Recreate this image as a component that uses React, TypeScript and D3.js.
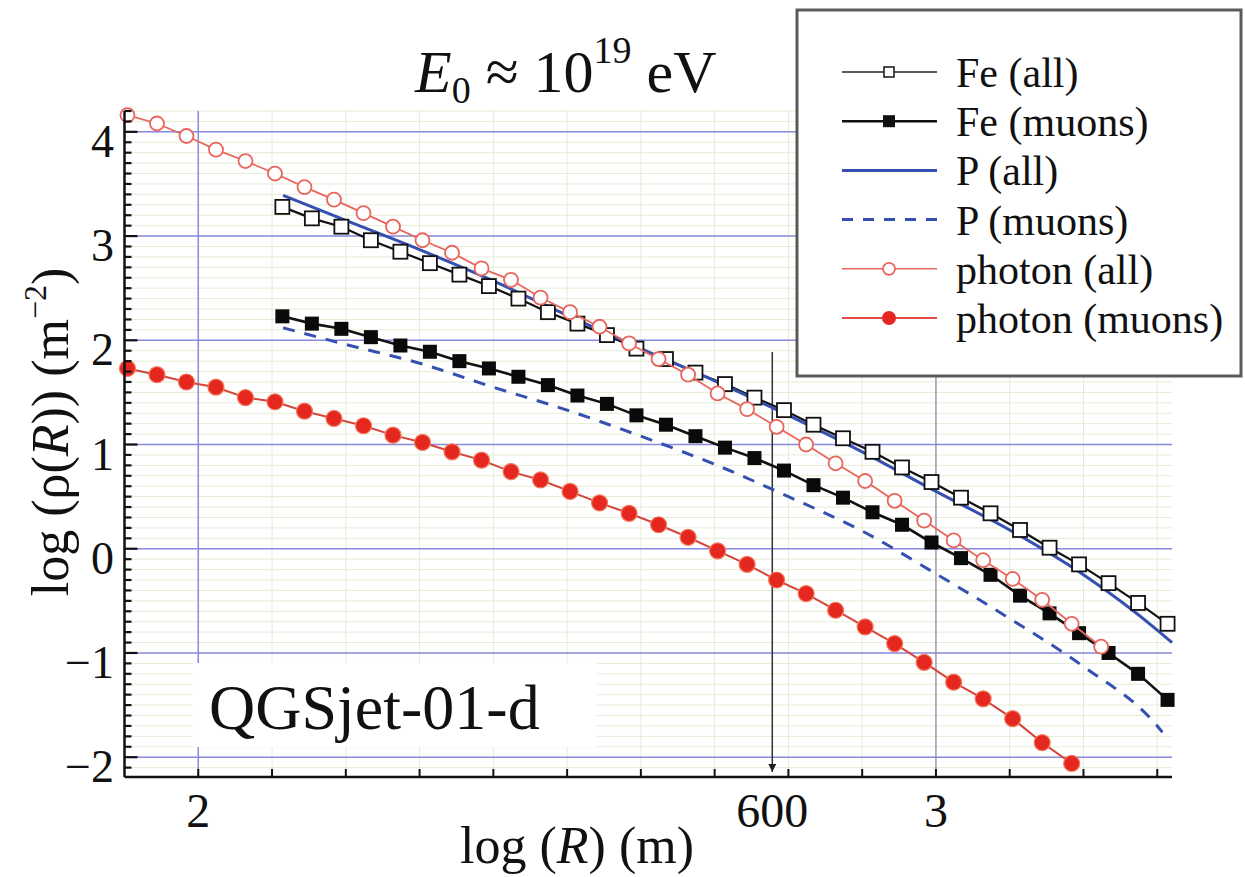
import React from "react";
import * as d3 from "d3";

// ---- data (log10 R in m, log10 rho in m^-2) ----
const photonLogR = [1.904, 1.944, 1.984, 2.024, 2.064, 2.104, 2.144, 2.184, 2.224, 2.264, 2.304, 2.344, 2.384, 2.424, 2.464, 2.504, 2.544, 2.584, 2.624, 2.664, 2.704, 2.744, 2.784, 2.824, 2.864, 2.904, 2.944, 2.984, 3.024, 3.064, 3.104, 3.144, 3.184, 3.224];
const photonAll = [4.16, 4.08, 3.96, 3.83, 3.72, 3.6, 3.47, 3.35, 3.22, 3.09, 2.96, 2.84, 2.69, 2.58, 2.41, 2.27, 2.13, 1.97, 1.82, 1.67, 1.49, 1.34, 1.17, 1.0, 0.82, 0.65, 0.46, 0.27, 0.08, -0.11, -0.29, -0.49, -0.72, -0.94];
const photonMuons = [1.73, 1.67, 1.6, 1.55, 1.45, 1.41, 1.32, 1.25, 1.18, 1.09, 1.02, 0.93, 0.85, 0.74, 0.66, 0.55, 0.44, 0.34, 0.23, 0.11, -0.02, -0.15, -0.3, -0.43, -0.59, -0.75, -0.91, -1.09, -1.28, -1.44, -1.63, -1.86, -2.06];
const feLogR = [2.114, 2.154, 2.194, 2.234, 2.274, 2.314, 2.354, 2.394, 2.434, 2.474, 2.514, 2.554, 2.594, 2.634, 2.674, 2.714, 2.754, 2.794, 2.834, 2.874, 2.914, 2.954, 2.994, 3.034, 3.074, 3.114, 3.154, 3.194, 3.234, 3.274, 3.314];
const feAll = [3.28, 3.17, 3.09, 2.96, 2.85, 2.74, 2.63, 2.52, 2.4, 2.27, 2.16, 2.05, 1.92, 1.82, 1.69, 1.58, 1.45, 1.33, 1.19, 1.06, 0.93, 0.78, 0.64, 0.49, 0.34, 0.18, 0.01, -0.15, -0.33, -0.52, -0.72];
const feMuons = [2.23, 2.16, 2.11, 2.03, 1.95, 1.89, 1.8, 1.73, 1.65, 1.57, 1.47, 1.39, 1.28, 1.19, 1.08, 0.97, 0.87, 0.75, 0.61, 0.49, 0.35, 0.23, 0.06, -0.09, -0.25, -0.45, -0.62, -0.81, -1.0, -1.2, -1.45];
const pAllLogR = [2.115, 2.2, 2.3, 2.4, 2.5, 2.6, 2.7, 2.8, 2.9, 3.0, 3.1, 3.2, 3.3, 3.32];
const pAll = [3.39, 3.15, 2.87, 2.57, 2.24, 1.92, 1.61, 1.28, 0.93, 0.55, 0.18, -0.25, -0.78, -0.9];
const pMuonsLogR = [2.115, 2.2, 2.3, 2.4, 2.5, 2.6, 2.7, 2.8, 2.9, 3.0, 3.1, 3.2, 3.3, 3.307];
const pMuons = [2.12, 1.96, 1.78, 1.55, 1.33, 1.08, 0.81, 0.5, 0.17, -0.24, -0.67, -1.13, -1.7, -1.76];

const yTickValues = [-2, -1, 0, 1, 2, 3, 4];
const xTickLabels = [
  { value: 2, label: "2" },
  { value: Math.log10(600), label: "600" },
  { value: 3, label: "3" },
];
const legendLabels = ["Fe (all)", "Fe (muons)", "P (all)", "P (muons)", "photon (all)", "photon (muons)"];

const W = 1245;
const H = 877;
const FONT = "'Liberation Serif', 'Times New Roman', serif";

const BLUE = "#3550b0";
const RED = "#e5281f";
const RED_LIGHT = "#e8665c";
const GRID_BLUE = "#8a8ae0";
const MINOR = "#e5ecd6";

export default function App() {
  const x = d3.scaleLinear().domain([1.9, 3.32]).range([124.5, 1172]);
  const y = d3.scaleLinear().domain([-2.19, 4.2]).range([777, 111]);

  const line = (xs: number[], ys: number[], curve = d3.curveLinear) =>
    d3
      .line<number>()
      .x((_, i) => x(xs[i]))
      .y((v) => y(v))
      .curve(curve)(ys) || "";

  const minorX = d3.range(20, 34).map((v) => v / 10);
  const minorY = d3.range(-21, 43).map((v) => v / 10);

  const x0 = x(1.9);
  const x1 = x(3.32);
  const yTop = y(4.2);
  const yBot = y(-2.19);

  const sq = 14;

  // legend geometry
  const lgX = 797;
  const lgY = 10;
  const rowY = (i: number) => 72 + i * 49.2;
  const lgLineX0 = 842;
  const lgLineX1 = 937;
  const lgMark = 889;

  return (
    <svg
      width={W}
      height={H}
      style={{ position: "absolute", left: 0, top: 0, background: "#fff" }}
      fontFamily={FONT}
    >
      <defs>
        <marker id="arrow" viewBox="0 0 10 10" refX="10" refY="5" markerWidth="10" markerHeight="8" orient="auto" markerUnits="userSpaceOnUse">
          <path d="M0,0 L10,5 L0,10 z" fill="#222" />
        </marker>
      </defs>
      <rect x={0} y={0} width={W} height={H} fill="#fff" />

      {/* minor grid */}
      {minorX.map((v) => (
        <line key={"mx" + v} x1={x(v)} x2={x(v)} y1={yTop} y2={yBot} stroke={MINOR} strokeWidth={1} />
      ))}
      {minorY.map((v) => (
        <line key={"my" + v} x1={x0} x2={x1} y1={y(v)} y2={y(v)} stroke={MINOR} strokeWidth={1} />
      ))}

      {/* major grid */}
      {yTickValues.map((v) => (
        <line key={"gy" + v} x1={x0} x2={x1} y1={y(v)} y2={y(v)} stroke={GRID_BLUE} strokeWidth={1.5} />
      ))}
      <line x1={x(2)} x2={x(2)} y1={yTop} y2={yBot} stroke={GRID_BLUE} strokeWidth={1.5} />
      <line x1={x(3)} x2={x(3)} y1={yTop} y2={yBot} stroke="#8a8a9a" strokeWidth={1.2} />

      {/* QGSjet label box */}
      <rect x={193} y={663} width={404} height={84} fill="#fff" />
      <text x={209} y={729} fontSize={64} fill="#111">QGSjet-01-d</text>

      {/* 600 m marker line */}
      <line x1={x(Math.log10(600))} x2={x(Math.log10(600))} y1={352} y2={772} stroke="#333" strokeWidth={1.5} markerEnd="url(#arrow)" />

      {/* Fe (all) */}
      <path d={line(feLogR, feAll)} fill="none" stroke="#111" strokeWidth={2.2} />
      {/* Fe (muons) */}
      <path d={line(feLogR, feMuons)} fill="none" stroke="#111" strokeWidth={2.6} />
      {/* P (all) */}
      <path d={line(pAllLogR, pAll, d3.curveMonotoneX)} fill="none" stroke={BLUE} strokeWidth={3} />
      {/* P (muons) */}
      <path d={line(pMuonsLogR, pMuons, d3.curveMonotoneX)} fill="none" stroke={BLUE} strokeWidth={3} strokeDasharray="12 10" />

      {feLogR.map((v, i) => (
        <rect key={"fa" + i} x={x(v) - sq / 2} y={y(feAll[i]) - sq / 2} width={sq} height={sq} fill="#fff" stroke="#111" strokeWidth={1.8} />
      ))}
      {feLogR.map((v, i) => (
        <rect key={"fm" + i} x={x(v) - sq / 2} y={y(feMuons[i]) - sq / 2} width={sq} height={sq} fill="#0a0a0a" />
      ))}

      {/* photon (all) */}
      <path d={line(photonLogR, photonAll)} fill="none" stroke={RED_LIGHT} strokeWidth={1.8} />
      {photonLogR.map((v, i) => (
        <circle key={"pa" + i} cx={x(v)} cy={y(photonAll[i])} r={7} fill="#fff" stroke={RED_LIGHT} strokeWidth={1.8} />
      ))}
      {/* photon (muons) */}
      <path d={line(photonLogR.slice(0, photonMuons.length), photonMuons)} fill="none" stroke="#d6453a" strokeWidth={2} />
      {photonMuons.map((v, i) => (
        <circle key={"pm" + i} cx={x(photonLogR[i])} cy={y(v)} r={8} fill={RED} stroke="#f27a5e" strokeWidth={1.2} />
      ))}

      {/* axes */}
      <line x1={x0} x2={x0} y1={yTop} y2={yBot} stroke="#111" strokeWidth={2.5} />
      <line x1={x0} x2={x1} y1={yBot} y2={yBot} stroke="#111" strokeWidth={2.5} />
      {minorY.map((v) => {
        const major = Math.abs(v - Math.round(v)) < 1e-6;
        return <line key={"ty" + v} x1={x0} x2={x0 + (major ? 13 : 7)} y1={y(v)} y2={y(v)} stroke="#111" strokeWidth={2.2} />;
      })}
      {minorX.map((v) => (
        <line key={"tx" + v} x1={x(v)} x2={x(v)} y1={yBot} y2={yBot - 8} stroke="#111" strokeWidth={2} />
      ))}

      {/* tick labels */}
      {yTickValues.map((v) => (
        <text key={"ly" + v} x={114} y={y(v) + 25} fontSize={46} textAnchor="end" fill="#111">
          {v < 0 ? "\u2212" + Math.abs(v) : String(v)}
        </text>
      ))}
      {xTickLabels.map((t) => (
        <text key={"lx" + t.label} x={x(t.value)} y={827} fontSize={48} textAnchor="middle" fill="#111">
          {t.label}
        </text>
      ))}

      {/* axis titles */}
      <text x={577} y={863} fontSize={52} textAnchor="middle" fill="#111">
        log (<tspan fontStyle="italic">R</tspan>) (m)
      </text>
      <text transform="translate(68,432) rotate(-90)" fontSize={52} textAnchor="middle" fill="#111">
        log (ρ(<tspan fontStyle="italic">R</tspan>)) (m<tspan fontSize={32} dy={-22}>−2</tspan><tspan dy={22}>)</tspan>
      </text>

      {/* title */}
      <text x={415} y={92} fontSize={60} fill="#111">
        <tspan fontStyle="italic">E</tspan>
        <tspan fontSize={38} dy={11}>0</tspan>
        <tspan dy={-11}> ≈ 10</tspan>
        <tspan fontSize={38} dy={-29}>19</tspan>
        <tspan dy={29}> eV</tspan>
      </text>

      {/* legend */}
      <rect x={lgX} y={lgY} width={444} height={366} fill="#fff" stroke="#5a5a5a" strokeWidth={3} />
      {legendLabels.map((lab, i) => (
        <text key={"lg" + i} x={956} y={rowY(i) + 15} fontSize={42} fill="#111">
          {lab}
        </text>
      ))}
      {/* Fe (all) */}
      <line x1={lgLineX0} x2={lgLineX1} y1={rowY(0)} y2={rowY(0)} stroke="#222" strokeWidth={1.6} />
      <rect x={lgMark - 5} y={rowY(0) - 5} width={10} height={10} fill="#fff" stroke="#222" strokeWidth={1.6} />
      {/* Fe (muons) */}
      <line x1={lgLineX0} x2={lgLineX1} y1={rowY(1)} y2={rowY(1)} stroke="#111" strokeWidth={2.6} />
      <rect x={lgMark - 6} y={rowY(1) - 6} width={12} height={12} fill="#111" />
      {/* P (all) */}
      <line x1={lgLineX0} x2={lgLineX1} y1={rowY(2)} y2={rowY(2)} stroke={BLUE} strokeWidth={3} />
      {/* P (muons) */}
      <line x1={lgLineX0} x2={lgLineX1} y1={rowY(3)} y2={rowY(3)} stroke={BLUE} strokeWidth={3} strokeDasharray="11 10" />
      {/* photon (all) */}
      <line x1={lgLineX0} x2={lgLineX1} y1={rowY(4)} y2={rowY(4)} stroke={RED_LIGHT} strokeWidth={1.5} />
      <circle cx={lgMark} cy={rowY(4)} r={6} fill="#fff" stroke={RED_LIGHT} strokeWidth={1.8} />
      {/* photon (muons) */}
      <line x1={lgLineX0} x2={lgLineX1} y1={rowY(5)} y2={rowY(5)} stroke="#e04a40" strokeWidth={2} />
      <circle cx={lgMark} cy={rowY(5)} r={7} fill={RED} />
    </svg>
  );
}
